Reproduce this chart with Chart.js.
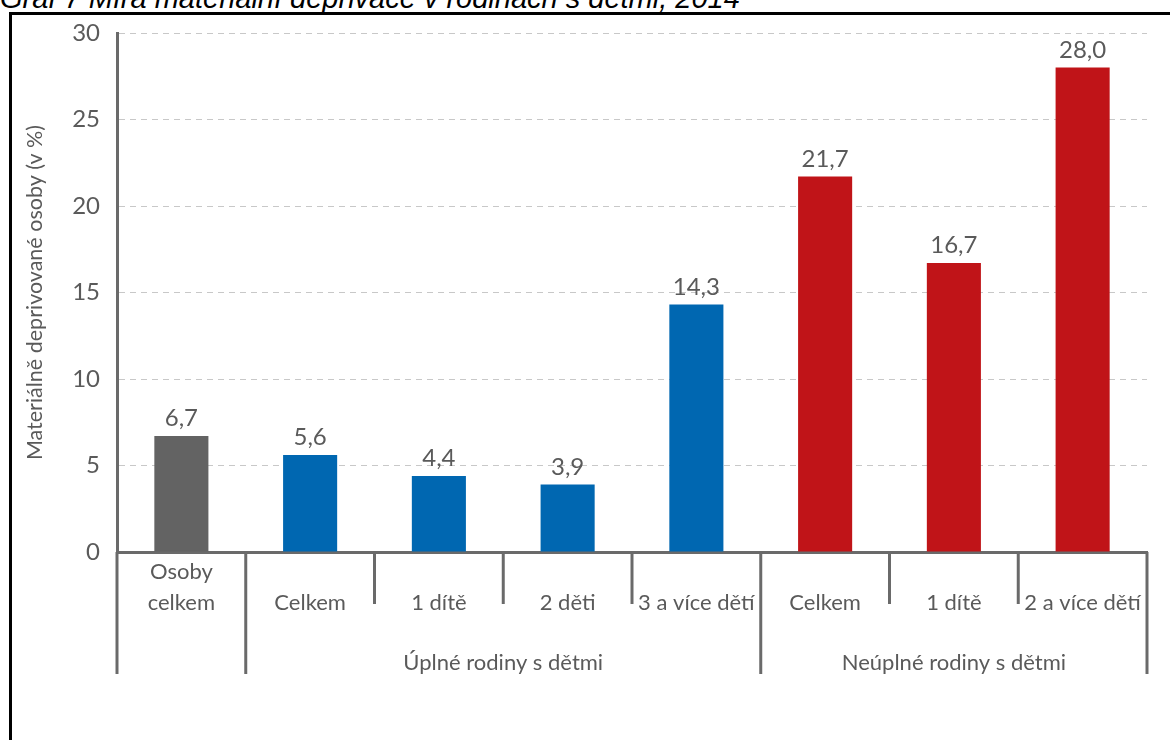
<!DOCTYPE html>
<html lang="cs">
<head>
<meta charset="utf-8">
<title>Míra materiální deprivace v rodinách s dětmi</title>
<script src="https://cdn.jsdelivr.net/npm/chart.js@4/dist/chart.umd.min.js"></script>
<style>
  html, body { margin: 0; padding: 0; background: #fff; overflow: hidden; }
  #wrap { position: relative; width: 1170px; height: 740px; overflow: hidden; }
  #caption {
    position: absolute; left: 0; top: -16px; margin: 0;
    font: italic 29px "Liberation Sans", Arial, sans-serif; line-height: 29px;
    color: #000; white-space: nowrap;
  }
  #frame {
    position: absolute; left: 9px; top: 12px; width: 1300px; height: 900px;
    border: 3px solid #000; background: #fff;
  }
  #chart { position: absolute; left: 0; top: 0; }
</style>
</head>
<body>
<div id="wrap">
  <div id="caption">Graf 7 Míra materiální deprivace v rodinách s dětmi, 2014</div>
  <div id="frame"></div>
  <canvas id="chart" width="1170" height="740"></canvas>
</div>
<script>
// Data
const categories = [["Osoby", "celkem"], "Celkem", "1 dítě", "2 děti", "3 a více dětí", "Celkem", "1 dítě", "2 a více dětí"];
const values = [6.7, 5.6, 4.4, 3.9, 14.3, 21.7, 16.7, 28.0];
const groupNames = ["", "Úplné rodiny s dětmi", "Neúplné rodiny s dětmi"];
const groupOf = [0, 1, 1, 1, 1, 2, 2, 2];
const yMin = 0, yMax = 30, yStep = 5;
const yTitle = "Materiálně deprivované osoby (v %)";

const GROUP_COLORS = ["#636363", "#0067b1", "#c01418"];
const INK = "#5a5a5a";
const AXIS = "#6a6a6a";
const FONT = "Lato, 'Noto Sans', sans-serif";

function fmt(v) {
  return v.toFixed(1).replace(".", ",");
}

// hodnoty nad sloupci
const valueLabels = {
  id: "valueLabels",
  afterDatasetsDraw(chart) {
    const ctx = chart.ctx;
    const meta = chart.getDatasetMeta(0);
    ctx.save();
    ctx.fillStyle = INK;
    ctx.font = "24px " + FONT;
    ctx.textAlign = "center";
    ctx.textBaseline = "alphabetic";
    meta.data.forEach((bar, i) => {
      ctx.fillText(fmt(values[i]), bar.x, bar.y - 10);
    });
    ctx.restore();
  }
};

// popisky kategorií, skupin a dělicí čáry pod osou x
const categoryAxis = {
  id: "categoryAxis",
  afterDraw(chart) {
    const ctx = chart.ctx;
    const xs = chart.scales.x;
    const area = chart.chartArea;
    const n = categories.length;
    const w = (area.right - area.left) / n;
    const base = area.bottom;
    const shortEnd = base + 52;
    const longEnd = base + 122;

    ctx.save();
    ctx.strokeStyle = AXIS;
    ctx.lineWidth = 3;
    for (let i = 0; i <= n; i++) {
      const x = i < n ? xs.getPixelForValue(i) - w / 2 : xs.getPixelForValue(n - 1) + w / 2;
      const isGroupEdge = i === 0 || i === n || groupOf[i] !== groupOf[i - 1];
      ctx.beginPath();
      ctx.moveTo(x, base);
      ctx.lineTo(x, isGroupEdge ? longEnd : shortEnd);
      ctx.stroke();
    }

    ctx.fillStyle = INK;
    ctx.font = "22px " + FONT;
    ctx.textAlign = "center";
    ctx.textBaseline = "middle";
    categories.forEach((lab, i) => {
      const x = xs.getPixelForValue(i);
      if (Array.isArray(lab)) {
        ctx.fillText(lab[0], x, base + 20);
        ctx.fillText(lab[1], x, base + 51);
      } else {
        ctx.fillText(lab, x, base + 51);
      }
    });

    groupNames.forEach((g, gi) => {
      if (!g) return;
      const idx = groupOf.map((v, i) => v === gi ? i : -1).filter(i => i >= 0);
      const x0 = xs.getPixelForValue(idx[0]) - w / 2;
      const x1 = xs.getPixelForValue(idx[idx.length - 1]) + w / 2;
      ctx.fillText(g, (x0 + x1) / 2, base + 111);
    });
    ctx.restore();
  }
};

new Chart(document.getElementById("chart"), {
  type: "bar",
  data: {
    labels: categories.map(c => Array.isArray(c) ? c.join(" ") : c),
    datasets: [{
      data: values,
      backgroundColor: groupOf.map(g => GROUP_COLORS[g]),
      barPercentage: 0.84,
      categoryPercentage: 0.5,
      borderWidth: 0
    }]
  },
  plugins: [valueLabels, categoryAxis],
  options: {
    responsive: false,
    animation: false,
    layout: { padding: { top: 33, right: 23, bottom: 0, left: 0 } },
    plugins: {
      legend: { display: false },
      tooltip: { enabled: false }
    },
    scales: {
      x: {
        ticks: { display: false },
        grid: { display: false, drawTicks: false },
        border: { display: true, color: AXIS, width: 3 },
        afterFit(scale) { scale.height = 188; }
      },
      y: {
        min: yMin,
        max: yMax,
        ticks: {
          stepSize: yStep,
          padding: 17,
          color: INK,
          font: { family: FONT, size: 24 }
        },
        grid: { color: "#c8c8c8", lineWidth: 1, drawTicks: false },
        border: { display: true, color: AXIS, width: 3, dash: [6, 5] },
        title: {
          display: true,
          text: yTitle,
          color: INK,
          font: { family: FONT, size: 21.5 },
          padding: { top: 22, bottom: 0 }
        },
        afterFit(scale) { scale.width = 117; }
      }
    }
  }
});
</script>
</body>
</html>
